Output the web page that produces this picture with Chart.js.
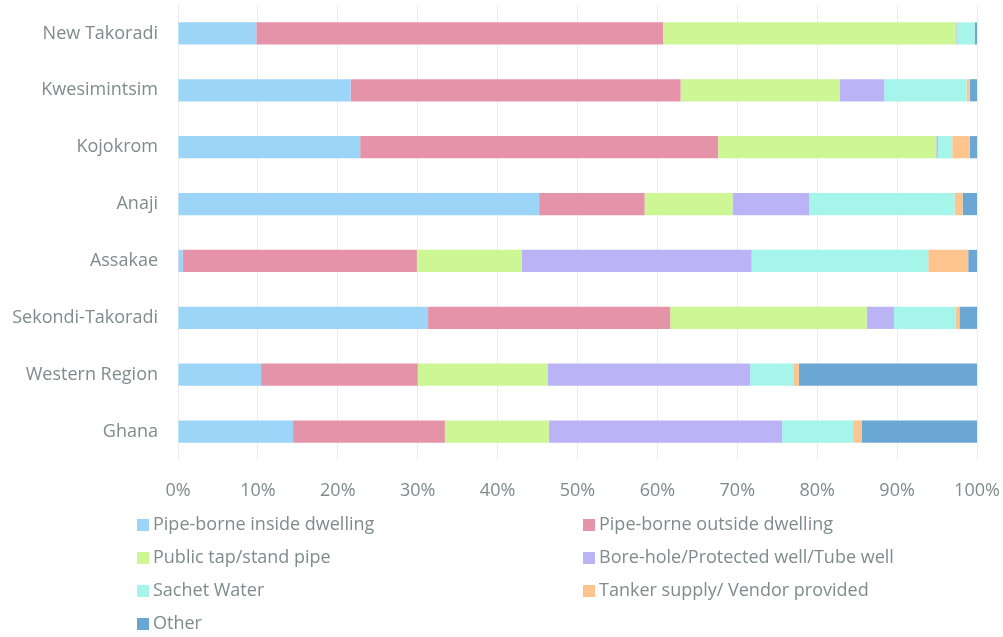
<!DOCTYPE html>
<html>
<head>
<meta charset="utf-8">
<script src="https://cdn.jsdelivr.net/npm/chart.js@4"></script>
<style>
  html, body { margin: 0; padding: 0; background: #fff; }
  #wrap { width: 1003px; height: 637px; }
</style>
</head>
<body>
<div id="wrap"><canvas id="chart"></canvas></div>
<script>
const localities = ["New Takoradi", "Kwesimintsim", "Kojokrom", "Anaji", "Assakae", "Sekondi-Takoradi", "Western Region", "Ghana"]

const pipeInside = [9.8, 21.6, 22.8, 45.2, 0.6, 31.3, 10.4, 14.4]
const pipeOutside = [50.9, 41.3, 44.8, 13.2, 29.3, 30.3, 19.6, 19.0]
const publicTap = [36.7, 19.9, 27.3, 11.0, 13.1, 24.6, 16.3, 13.0]
const boreHole = [0.1, 5.6, 0.2, 9.6, 28.8, 3.4, 25.3, 29.2]
const sachet = [2.2, 10.3, 1.8, 18.2, 22.1, 7.7, 5.4, 8.9]
const tanker = [0.0, 0.4, 2.2, 1.0, 5.0, 0.5, 0.7, 1.1]
const other = [0.3, 0.9, 0.9, 1.8, 1.1, 2.2, 22.3, 14.4]

const xTicks = [0, 10, 20, 30, 40, 50, 60, 70, 80, 90, 100]

const textColor = '#7f8b8c'
const font = { family: "'Open Sans', sans-serif", size: 18 }

// legend laid out in two columns under the axis
const columnLegend = {
  id: 'columnLegend',
  afterDraw(chart) {
    const ctx = chart.ctx
    const cols = [137, 583]
    const rowTop = 519
    const rowGap = 33
    ctx.save()
    ctx.font = "18px 'Open Sans', sans-serif"
    ctx.textBaseline = 'middle'
    chart.data.datasets.forEach((ds, i) => {
      const x = cols[i % 2]
      const y = rowTop + Math.floor(i / 2) * rowGap
      ctx.fillStyle = ds.backgroundColor
      ctx.fillRect(x, y, 12, 12)
      ctx.fillStyle = textColor
      ctx.fillText(ds.label, x + 16, y + 6)
    })
    ctx.restore()
  }
}

const ctx = document.getElementById('chart').getContext('2d')

new Chart(ctx, {
  type: 'bar',
  data: {
    labels: localities,
    datasets: [
      { label: 'Pipe-borne inside dwelling', data: pipeInside, backgroundColor: '#9dd5f8' },
      { label: 'Pipe-borne outside dwelling', data: pipeOutside, backgroundColor: '#e593a9' },
      { label: 'Public tap/stand pipe', data: publicTap, backgroundColor: '#cdf694' },
      { label: 'Bore-hole/Protected well/Tube well', data: boreHole, backgroundColor: '#bab4f6' },
      { label: 'Sachet Water', data: sachet, backgroundColor: '#a6f5ea' },
      { label: 'Tanker supply/ Vendor provided', data: tanker, backgroundColor: '#fdc48e' },
      { label: 'Other', data: other, backgroundColor: '#6ba7d4' }
    ]
  },
  options: {
    indexAxis: 'y',
    responsive: true,
    maintainAspectRatio: false,
    animation: false,
    categoryPercentage: 1,
    barPercentage: 0.39,
    layout: { padding: { left: 0, right: 26, top: 5, bottom: 132 } },
    plugins: {
      legend: { display: false },
      tooltip: { enabled: false }
    },
    scales: {
      x: {
        stacked: true,
        min: 0,
        max: 100,
        afterFit: (scale) => {
          scale.height = 45
          scale.paddingLeft = 0
          scale.paddingRight = 0
        },
        afterBuildTicks: (scale) => { scale.ticks = xTicks.map(v => ({ value: v })) },
        grid: { color: '#ececec', drawTicks: false },
        border: { display: false },
        ticks: {
          padding: 20,
          color: textColor,
          font: font,
          callback: (v) => v + '%'
        }
      },
      y: {
        stacked: true,
        afterFit: (scale) => {
          scale.width = 178
          scale.paddingTop = 0
          scale.paddingBottom = 0
        },
        grid: { display: false, drawTicks: false },
        border: { display: false },
        ticks: { padding: 20, color: textColor, font: font }
      }
    }
  },
  plugins: [columnLegend]
})
</script>
</body>
</html>
